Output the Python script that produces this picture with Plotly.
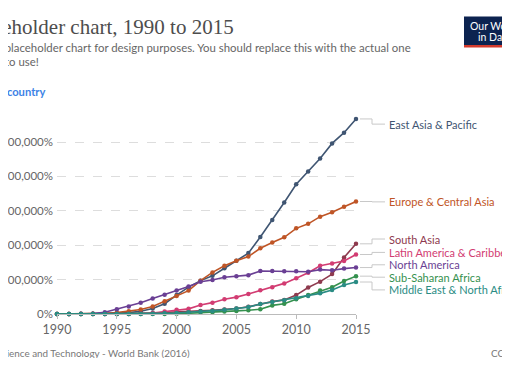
import plotly.graph_objects as go

# ---------------- data (values in millions of %) ----------------
years = list(range(1990, 2016))

east_asia = [0, 0, 0, 0.005, 0.01, 0.02, 0.04, 0.08, 0.16, 0.30, 0.55, 0.78, 0.97, 1.11, 1.33, 1.55,
             1.77, 2.24, 2.73, 3.24, 3.77, 4.14, 4.52, 4.96, 5.27, 5.67]
europe = [0, 0, 0.005, 0.01, 0.02, 0.04, 0.08, 0.13, 0.22, 0.37, 0.52, 0.68, 0.97, 1.21, 1.40, 1.55,
          1.67, 1.91, 2.08, 2.23, 2.49, 2.62, 2.83, 2.96, 3.12, 3.27]
south_asia = [0, 0, 0, 0, 0, 0, 0.01, 0.02, 0.03, 0.04, 0.05, 0.07, 0.09, 0.11, 0.13, 0.16,
              0.21, 0.29, 0.36, 0.41, 0.55, 0.77, 0.94, 1.16, 1.64, 2.04]
latin_america = [0, 0, 0, 0, 0, 0, 0, 0.01, 0.03, 0.07, 0.12, 0.15, 0.26, 0.33, 0.43, 0.49,
                 0.58, 0.69, 0.78, 0.89, 1.04, 1.20, 1.40, 1.47, 1.54, 1.73]
north_america = [0, 0, 0.005, 0.01, 0.05, 0.14, 0.22, 0.33, 0.45, 0.56, 0.68, 0.80, 0.94, 0.99, 1.07, 1.10,
                 1.13, 1.25, 1.25, 1.24, 1.24, 1.23, 1.29, 1.27, 1.32, 1.35]
sub_saharan = [0, 0, 0, 0, 0, 0, 0, 0, 0, 0, 0.01, 0.02, 0.04, 0.05, 0.07, 0.09,
               0.11, 0.14, 0.25, 0.30, 0.43, 0.55, 0.68, 0.78, 0.96, 1.10]
middle_east = [0, 0, 0, 0, 0, 0, 0, 0, 0.01, 0.02, 0.03, 0.05, 0.07, 0.09, 0.12, 0.16,
               0.20, 0.29, 0.35, 0.40, 0.46, 0.52, 0.60, 0.70, 0.84, 0.93]

series_names = ["East Asia & Pacific", "Europe & Central Asia", "South Asia",
                "Latin America & Caribbean", "North America", "Sub-Saharan Africa",
                "Middle East & North Africa"]
series_values = [east_asia, europe, south_asia, latin_america, north_america, sub_saharan, middle_east]

y_tick_values = [0, 1, 2, 3, 4, 5]
y_tick_labels = ["0%", "1,000,000%", "2,000,000%", "3,000,000%", "4,000,000%", "5,000,000%"]
x_tick_values = [1990, 1995, 2000, 2005, 2010, 2015]

# ---------------- styles / layout ----------------
colors = ["#3F5572", "#BF5526", "#8E3A4E", "#D23C72", "#6A3F94", "#35914E", "#2A8C84"]
label_y = [5.52, 3.26, 2.18, 1.79, 1.43, 1.07, 0.70]  # label placement (data units)

OFF = 8                      # page offset of the figure inside the window
W, H = 510 - OFF, 350
L_REF, T_REF = 57, 118       # plot-area top-left in window pixels
PW, PH = 299, 196
L, T = L_REF - OFF, T_REF - OFF
R, B = W - L - PW, H - T - PH


def px(x):
    return (x - L_REF) / PW


def py(y):
    return (T_REF + PH - y) / PH


fig = go.Figure()
for name, vals, col in zip(series_names, series_values, colors):
    fig.add_trace(go.Scatter(
        x=years, y=vals, mode="lines+markers", name=name,
        line=dict(color=col, width=1.6),
        marker=dict(color=col, size=4.5),
        cliponaxis=False, showlegend=False,
    ))

shapes = []
annotations = []
for name, vals, col, ly in zip(series_names, series_values, colors, label_y):
    end = vals[-1]
    shapes.append(dict(type="line", xref="paper", yref="y", x0=px(360), x1=px(372), y0=end, y1=end,
                       line=dict(color="#C8C8C8", width=1)))
    shapes.append(dict(type="line", xref="paper", yref="y", x0=px(372), x1=px(372), y0=end, y1=ly,
                       line=dict(color="#C8C8C8", width=1)))
    shapes.append(dict(type="line", xref="paper", yref="y", x0=px(372), x1=px(385), y0=ly, y1=ly,
                       line=dict(color="#C8C8C8", width=1)))
    annotations.append(dict(text=name, xref="paper", yref="y", x=px(386.5), y=ly,
                            xanchor="left", yanchor="middle", showarrow=False,
                            font=dict(family="Lato", size=11, color=col)))

# header texts
annotations += [
    dict(text="Placeholder chart, 1990 to 2015", xref="paper", yref="paper", x=px(236), y=py(27),
         xanchor="right", yanchor="middle", showarrow=False,
         font=dict(family="Liberation Serif", size=21, color="#4D4D4D")),
    dict(text="This is a placeholder chart for design purposes. You should replace this with the actual one",
         xref="paper", yref="paper", x=px(413), y=py(47.5), xanchor="right", yanchor="middle",
         showarrow=False, font=dict(family="Lato", size=11.4, color="#666666")),
    dict(text="you want to use!", xref="paper", yref="paper", x=px(41), y=py(61.5),
         xanchor="right", yanchor="middle", showarrow=False,
         font=dict(family="Lato", size=11.4, color="#666666")),
    dict(text="<b>+ Add country</b>", xref="paper", yref="paper", x=px(47), y=py(91.5),
         xanchor="right", yanchor="middle", showarrow=False,
         font=dict(family="Lato", size=11.2, color="#3C82E6")),
    dict(text="Source: Science and Technology - World Bank (2016)", xref="paper", yref="paper",
         x=px(192), y=py(353), xanchor="right", yanchor="middle", showarrow=False,
         font=dict(family="Lato", size=9.9, color="#777777")),
    dict(text="CC BY", xref="paper", yref="paper", x=px(489), y=py(353), xanchor="left",
         yanchor="middle", showarrow=False, font=dict(family="Lato", size=9.9, color="#777777")),
    dict(text="Our World", xref="paper", yref="paper", x=px(494), y=py(25.5), xanchor="center",
         yanchor="middle", showarrow=False, font=dict(family="Lato", size=10.5, color="#FFFFFF")),
    dict(text="in Data", xref="paper", yref="paper", x=px(494), y=py(37), xanchor="center",
         yanchor="middle", showarrow=False, font=dict(family="Lato", size=10.5, color="#FFFFFF")),
]

# logo box
shapes += [
    dict(type="rect", xref="paper", yref="paper", x0=px(464), x1=px(526), y0=py(45), y1=py(16.5),
         fillcolor="#0C2350", line=dict(width=0), layer="below"),
    dict(type="rect", xref="paper", yref="paper", x0=px(464), x1=px(526), y0=py(47.5), y1=py(45),
         fillcolor="#D33A2C", line=dict(width=0), layer="below"),
]

fig.update_layout(
    width=W, height=H,
    margin=dict(l=L, r=R, t=T, b=B, autoexpand=False),
    paper_bgcolor="white", plot_bgcolor="white",
    shapes=shapes, annotations=annotations,
    showlegend=False,
    xaxis=dict(range=[1990, 2015], tickvals=x_tick_values, showgrid=False, zeroline=False,
               showline=True, linecolor="#BBBBBB", linewidth=1,
               ticks="outside", ticklen=4, tickcolor="#BBBBBB",
               tickfont=dict(family="Lato", size=12.5, color="#666666"), automargin=False),
    yaxis=dict(range=[0, PH / 34.4], tickvals=y_tick_values, ticktext=y_tick_labels,
               showgrid=True, gridcolor="#DDDDDD", griddash="dash", gridwidth=1,
               zeroline=False, showline=False, ticks="",
               tickfont=dict(family="Lato", size=11.5, color="#666666"), automargin=False,
               ticklabelstandoff=3),
)

fig.write_html("out.html")
